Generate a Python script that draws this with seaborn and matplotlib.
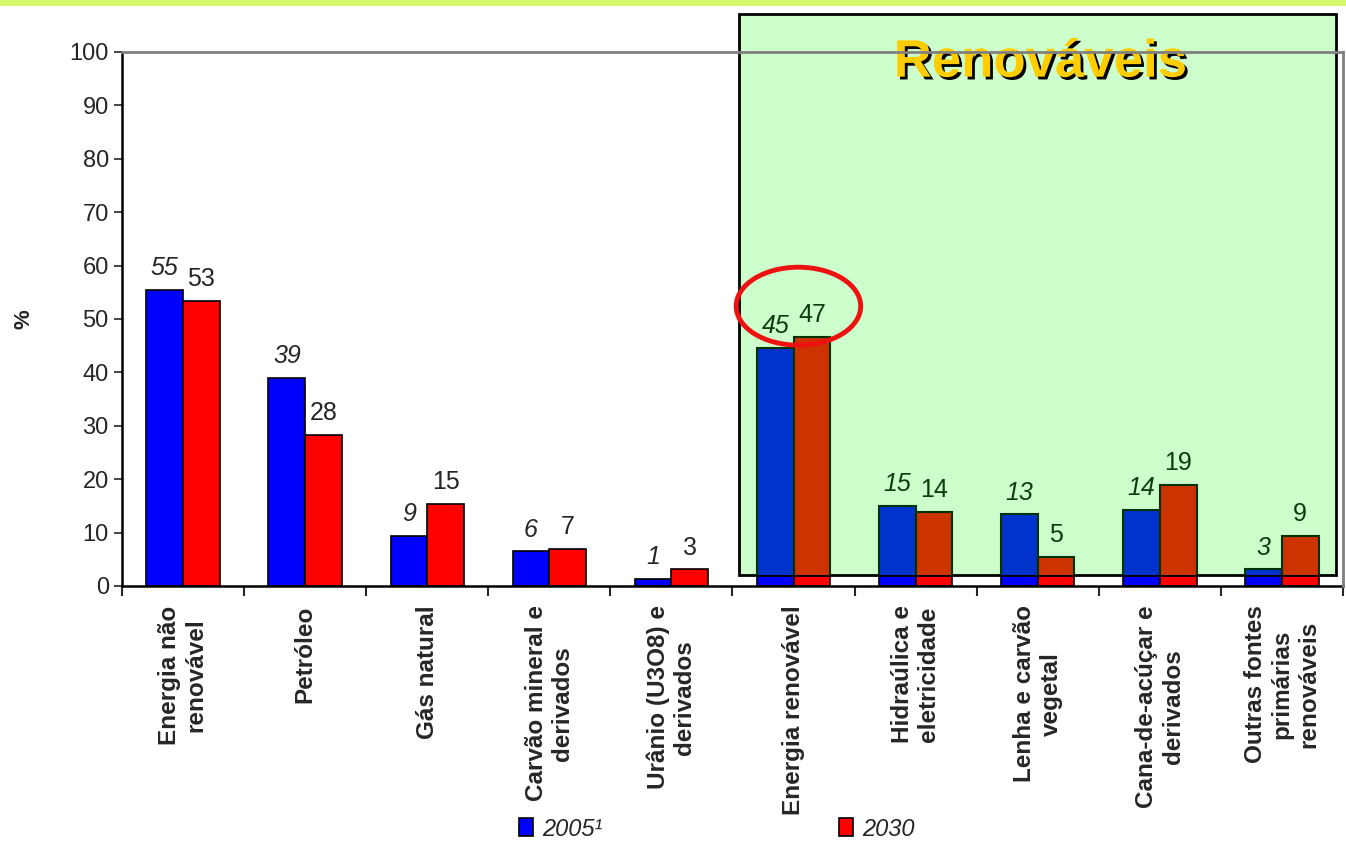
import numpy as np
import pandas as pd
import matplotlib
matplotlib.use('Agg')
import matplotlib.pyplot as plt
import matplotlib.patheffects as pe
from matplotlib.patches import Rectangle, Ellipse
import seaborn as sns

# dados (%)
categorias = ['Energia não\nrenovável', 'Petróleo', 'Gás natural',
              'Carvão mineral e\nderivados', 'Urânio (U3O8) e\nderivados',
              'Energia renovável', 'Hidraúlica e\neletricidade',
              'Lenha e carvão\nvegetal', 'Cana-de-acúçar e\nderivados',
              'Outras fontes\nprimárias\nrenováveis']
anos = ['2005¹', '2030']
v2005 = [55.4, 39.0, 9.4, 6.5, 1.4, 44.6, 15.0, 13.4, 14.2, 3.1]
v2030 = [53.4, 28.3, 15.4, 6.9, 3.1, 46.6, 13.9, 5.4, 18.9, 9.4]
n_nao_renov = 5

df = pd.DataFrame({
    'categoria': categorias * 2,
    'ano': [anos[0]] * len(categorias) + [anos[1]] * len(categorias),
    'valor': v2005 + v2030,
})

sns.set_style('ticks')
plt.rcParams['font.family'] = ['Liberation Sans', 'DejaVu Sans']

fig = plt.figure(figsize=(13.46, 8.51), dpi=100)
ax = fig.add_axes([0.0906, 0.3114, 0.9072, 0.6275])

sns.barplot(data=df, x='categoria', y='valor', hue='ano',
            palette=['#0000ff', '#ff0000'], saturation=1,
            width=0.6, gap=0, edgecolor='black', linewidth=1.2,
            errorbar=None, ax=ax)
containers = list(ax.containers)

ax.set_xlim(-0.5, 9.5)
ax.set_ylim(0, 100)
ax.set_yticks(range(0, 101, 10))

# caixa verde "Renováveis"
caixa = Rectangle((4.55, 2.06), 4.89, 105, transform=ax.transData,
                  facecolor='#ccffcc', edgecolor='black', linewidth=2,
                  zorder=3, clip_on=False)
ax.add_patch(caixa)

# barras vistas através da caixa (tons mais escuros)
for cont, cor in zip(containers, ['#0033cc', '#cc3300']):
    for p in list(cont)[n_nao_renov:]:
        r = Rectangle(p.get_xy(), p.get_width(), p.get_height(),
                      facecolor=cor, edgecolor='#003300', linewidth=1.5,
                      zorder=4)
        ax.add_patch(r)
        r.set_clip_path(caixa)

# rótulos de valor
for i, cont in enumerate(containers):
    txts = ax.bar_label(cont, fmt='%.0f', padding=7, fontsize=18,
                        fontstyle='italic' if i == 0 else 'normal',
                        zorder=5)
    for t in txts[n_nao_renov:]:
        t.set_color('#0b3d0b')

ax.add_patch(Ellipse((5.04, 52.4), 1.02, 14.6, fill=False,
                     edgecolor='#ee1111', linewidth=3.5, zorder=6))

ax.text(7.02, 98, 'Renováveis', ha='center', va='center', fontsize=38,
        fontweight='bold', color='#ffcc00', zorder=8,
        path_effects=[pe.withSimplePatchShadow(offset=(2, -2),
                                               shadow_rgbFace='black',
                                               alpha=1)])

# eixos
ax.set_xlabel('')
ax.set_ylabel('%', fontsize=16, fontweight='bold')
ax.yaxis.set_label_coords(-0.072, 0.5)
ax.set_xticks(range(len(categorias)))
ax.set_xticklabels(categorias, rotation=90, fontsize=17.5, fontweight='bold',
                   ha='center', va='top', multialignment='center',
                   linespacing=1.2)
ax.set_xticks(np.arange(-0.5, len(categorias), 1), minor=True)
ax.tick_params(axis='x', which='major', length=0, pad=14)
ax.tick_params(axis='x', which='minor', length=7, width=1.5, direction='out')
ax.tick_params(axis='y', labelsize=17, length=6, width=1.2)

for s in ['left', 'bottom']:
    ax.spines[s].set_color('black')
    ax.spines[s].set_linewidth(1.8)
for s in ['top', 'right']:
    ax.spines[s].set_color('#808080')
    ax.spines[s].set_linewidth(2)
    ax.spines[s].set_zorder(10)

# faixa verde no topo
fig.add_artist(Rectangle((0, 1 - 6 / 851), 1, 6 / 851,
                         transform=fig.transFigure,
                         facecolor='#d4f76c', edgecolor='none'))

handles, labels = ax.get_legend_handles_labels()
ax.get_legend().remove()
fig.legend(handles, labels, loc='center', bbox_to_anchor=(717 / 1346, 22 / 851),
           ncol=2, frameon=False, prop={'size': 17, 'style': 'italic'},
           handlelength=0.6, handleheight=0.8, handletextpad=0.4,
           columnspacing=10)

fig.savefig('out.png', dpi=100)
